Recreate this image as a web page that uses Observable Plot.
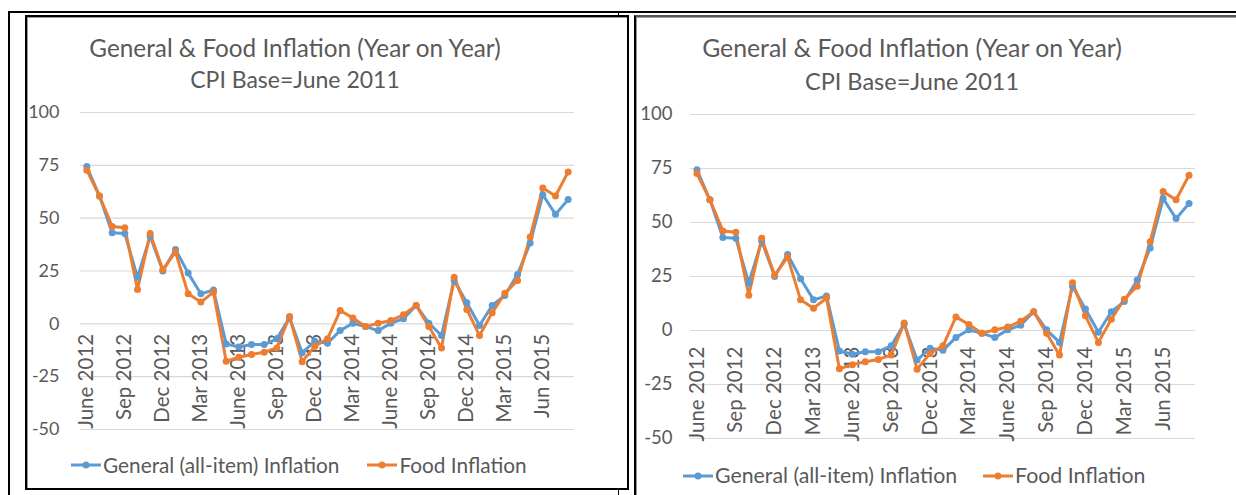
<!DOCTYPE html>
<html>
<head>
<meta charset="utf-8">
<script src="https://cdn.jsdelivr.net/npm/d3@7"></script>
<script src="https://cdn.jsdelivr.net/npm/@observablehq/plot@0.6"></script>
<style>
  html, body { margin: 0; padding: 0; background: #fff; }
  body { width: 1236px; height: 495px; position: relative; overflow: hidden; font-family: Lato, "Open Sans", sans-serif; color: #595959; }
  .abs { position: absolute; }
  .chart svg { display: block; max-width: none !important; }
  .title { position: absolute; text-align: center; white-space: nowrap; color: #595959; transform: translateX(-50%); line-height: 1; }
  .legend { position: absolute; display: flex; align-items: center; white-space: nowrap; color: #595959; line-height: 1; }
  .legend .item { display: flex; align-items: center; }
  .legend svg { display: block; }
</style>
</head>
<body>
<!-- table borders -->
<div class="abs" style="left:8px;top:11px;width:1228px;height:2px;background:#000"></div>
<div class="abs" style="left:8px;top:11px;width:2px;height:484px;background:#000"></div>
<div class="abs" style="left:618px;top:11px;width:1px;height:4px;background:#000"></div>
<div class="abs" style="left:618px;top:490px;width:1px;height:5px;background:#000"></div>
<div class="abs" style="left:25px;top:15px;width:600px;height:471px;border:2px solid #000;box-shadow: inset 1px 1px 0 #9a9a9a;"></div>
<div class="abs" style="left:634px;top:15px;width:700px;height:500px;border-left:2px solid #000;border-top:2px solid #555;box-shadow: inset 1px 1px 0 #9a9a9a;"></div>

<div id="c1" class="abs chart" style="left:27px;top:100px;width:598px;"></div>
<div id="c2" class="abs chart" style="left:637px;top:100px;width:590px;"></div>

<script>
// ---- data ----
const months = [
  "June 2012","Jul 2012","Aug 2012","Sep 2012","Oct 2012","Nov 2012","Dec 2012",
  "Jan 2013","Feb 2013","Mar 2013","Apr 2013","May 2013","June 2013","Jul 2013","Aug 2013",
  "Sep 2013","Oct 2013","Nov 2013","Dec 2013","Jan 2014","Feb 2014","Mar 2014","Apr 2014",
  "May 2014","June 2014","Jul 2014","Aug 2014","Sep 2014","Oct 2014","Nov 2014","Dec 2014",
  "Jan 2015","Feb 2015","Mar 2015","Apr 2015","May 2015","Jun 2015","Jul 2015","Aug 2015"
];
const generalInflation = [
  74.4, 60.5, 43.1, 42.7, 22.0, 41.4, 25.0, 35.2, 24.0, 14.2, 16.0, -9.5, -11.0,
  -9.8, -9.8, -7.1, 3.0, -13.7, -8.2, -9.2, -3.2, 0.3, -1.3, -3.2, 0.3, 2.4, 8.7,
  0.3, -5.5, 20.5, 10.0, -0.8, 8.7, 13.4, 23.4, 38.2, 61.1, 51.8, 58.8
];
const foodInflation = [
  72.7, 60.5, 46.1, 45.5, 16.3, 42.7, 25.6, 34.0, 14.2, 10.3, 15.0, -17.7, -15.8,
  -14.5, -13.4, -11.4, 3.5, -17.9, -10.6, -7.1, 6.3, 2.8, -1.3, 0.3, 1.6, 4.3, 8.7,
  -1.3, -11.4, 22.1, 6.8, -5.5, 5.2, 14.5, 20.5, 41.1, 64.3, 60.5, 71.9
];
const xTickLabels = [
  "June 2012","Sep 2012","Dec 2012","Mar 2013","June 2013","Sep 2013","Dec 2013",
  "Mar 2014","June 2014","Sep 2014","Dec 2014","Mar 2015","Jun 2015"
];
const yTicks = [-50, -25, 0, 25, 50, 75, 100];
const seriesNames = ["General (all-item) Inflation", "Food Inflation"];
const seriesColors = ["#5B9BD5", "#ED7D31"];
const titleLine1 = "General & Food Inflation (Year on Year)";
const titleLine2 = "CPI Base=June 2011";

// month position = index of the category (categories centred in equal slots)
const rows = [
  ...months.map((m, i) => ({month: m, pos: i, value: generalInflation[i], series: seriesNames[0]})),
  ...months.map((m, i) => ({month: m, pos: i, value: foodInflation[i], series: seriesNames[1]}))
];

function makeChart(cfg) {
  return Plot.plot({
    width: cfg.width,
    height: cfg.height,
    marginLeft: cfg.ml,
    marginRight: cfg.mr,
    marginTop: cfg.mt,
    marginBottom: cfg.mb,
    style: {fontFamily: "Lato, 'Open Sans', sans-serif", color: "#595959", background: "transparent", overflow: "visible"},
    x: {type: "linear", domain: [-0.5, months.length - 0.5], axis: null},
    y: {domain: [-50, 100], label: null, axis: null},
    color: {domain: seriesNames, range: seriesColors},
    marks: [
      Plot.ruleY(yTicks, {stroke: "#d9d9d9", strokeWidth: 1.2}),
      Plot.axisY({ticks: yTicks, tickSize: 0, tickPadding: cfg.tickPad, tickFormat: d => String(d), label: null, fontSize: cfg.yFont, fill: "#595959"}),
      Plot.text(xTickLabels, {x: d => months.indexOf(d), y: () => 0, text: d => d, rotate: -90, textAnchor: "end", dy: cfg.labelDy, fontSize: cfg.xFont, fill: "#595959"}),
      Plot.line(rows, {x: "pos", y: "value", z: "series", stroke: "series", strokeWidth: 3, curve: "linear"}),
      Plot.dot(rows, {x: "pos", y: "value", fill: "series", r: 3.5})
    ]
  });
}

function addTitles(cx, y1, y2, size1, size2) {
  const t1 = document.createElement("div");
  t1.className = "title"; t1.textContent = titleLine1;
  t1.style.left = cx + "px"; t1.style.top = y1 + "px"; t1.style.fontSize = size1 + "px";
  const t2 = document.createElement("div");
  t2.className = "title"; t2.textContent = titleLine2;
  t2.style.left = cx + "px"; t2.style.top = y2 + "px"; t2.style.fontSize = size2 + "px";
  document.body.append(t1, t2);
}

function marker(color) {
  return `<svg width="30" height="10"><line x1="0" y1="5" x2="30" y2="5" stroke="${color}" stroke-width="3"/><circle cx="15" cy="5" r="3.5" fill="${color}"/></svg>`;
}

function addLegend(left, top, size, gap) {
  const lg = document.createElement("div");
  lg.className = "legend";
  lg.style.left = left + "px"; lg.style.top = top + "px"; lg.style.fontSize = size + "px";
  lg.innerHTML = seriesNames.map((n, i) =>
    `<div class="item" style="margin-right:${i === 0 ? gap : 0}px">${marker(seriesColors[i])}<span style="margin-left:2px">${n}</span></div>`
  ).join("");
  document.body.append(lg);
}

document.getElementById("c1").append(makeChart({width: 598, height: 340, ml: 53, mr: 51, mt: 12, mb: 11, tickPad: 21, yFont: 18, xFont: 20.5, labelDy: 10}));
document.getElementById("c2").append(makeChart({width: 590, height: 350, ml: 53, mr: 32, mt: 14, mb: 12, tickPad: 18, yFont: 18.5, xFont: 20.5, labelDy: 16}));

addTitles(295, 36, 68, 24.3, 23);
addTitles(912, 36, 70, 24.8, 23.5);
addLegend(71, 455, 20.8, 28);
addLegend(683, 465, 21.3, 26);
</script>
</body>
</html>
